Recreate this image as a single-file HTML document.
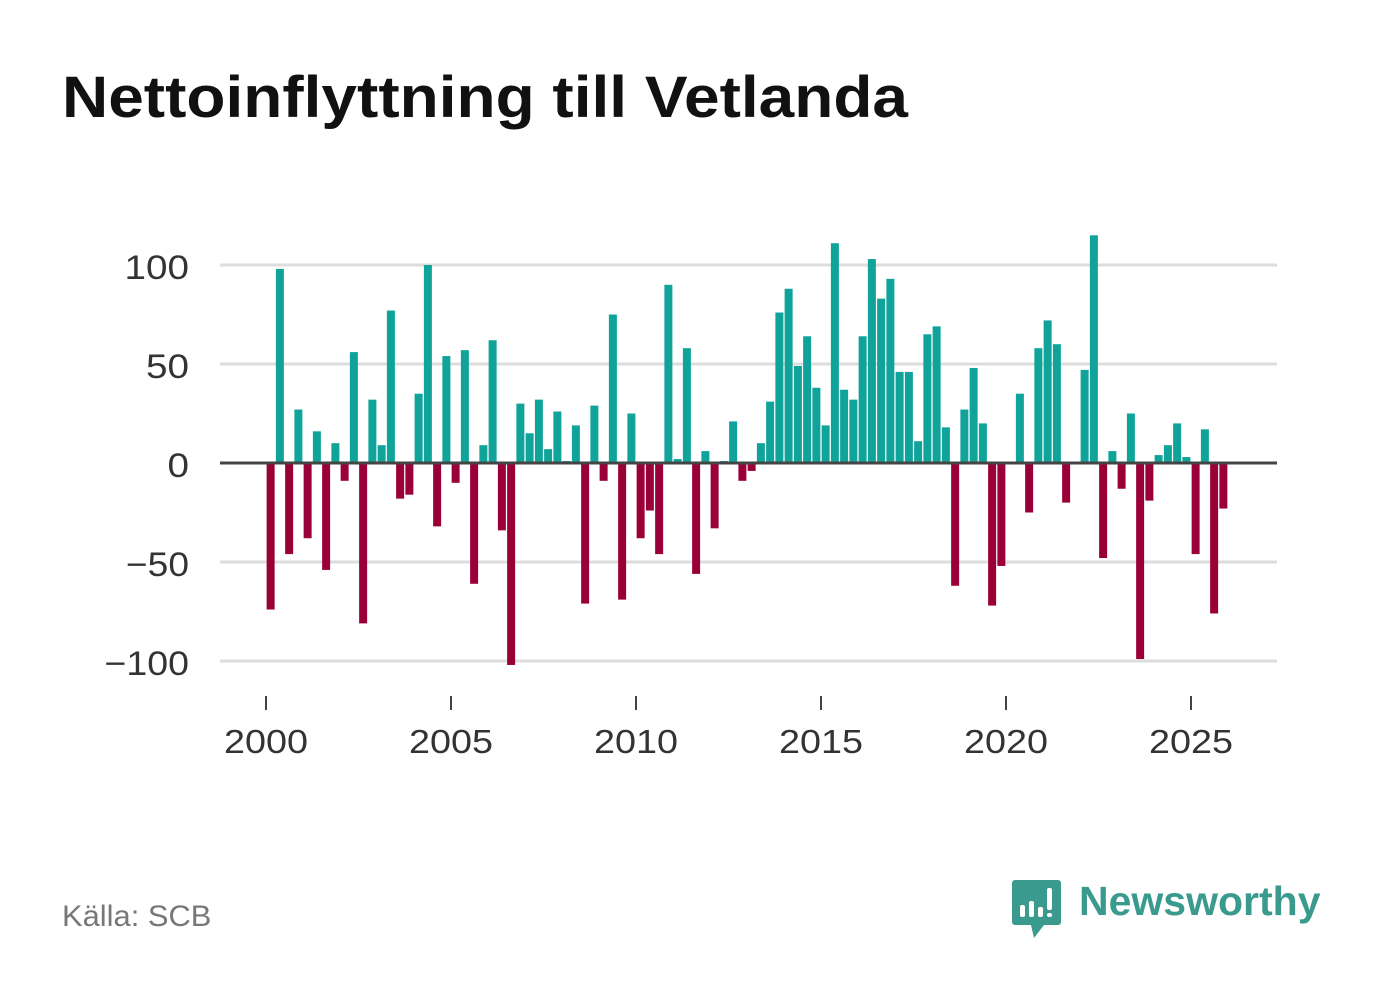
<!DOCTYPE html>
<html><head><meta charset="utf-8">
<style>
body{margin:0;background:#fff;width:1382px;height:999px;overflow:hidden;font-family:"Liberation Sans",sans-serif;}
#source{position:absolute;left:62px;top:900px;font-size:30px;color:#777;transform:scaleX(1.03);transform-origin:left;}
#logo-text{position:absolute;left:1079px;top:878px;font-size:41px;font-weight:bold;color:#3a9a8e;}
svg{position:absolute;left:0;top:0;}
</style></head>
<body>
<svg width="1382" height="160"><text x="62" y="117" font-size="58" font-weight="bold" fill="#111" font-family="Liberation Sans, sans-serif" textLength="846" lengthAdjust="spacingAndGlyphs">Nettoinflyttning till Vetlanda</text></svg>
<svg id="chart" width="1382" height="999"></svg>
<div id="source">Källa: SCB</div>
<svg width="1382" height="999" style="pointer-events:none">
<path d="M1015 880 h43 a3 3 0 0 1 3 3 v39 a3 3 0 0 1 -3 3 h-14 l-10 13 l-3 -13 h-16 a3 3 0 0 1 -3 -3 v-39 a3 3 0 0 1 3 -3z" fill="#3a9a8e"/>
<rect x="1020" y="905" width="5" height="12" rx="2" fill="#fff"/>
<rect x="1029" y="901" width="5" height="16" rx="2" fill="#fff"/>
<rect x="1038" y="907" width="5" height="10" rx="2" fill="#fff"/>
<rect x="1047" y="888" width="5" height="22" rx="2" fill="#fff"/>
<rect x="1047" y="913" width="5" height="4" rx="2" fill="#fff"/>
</svg>
<div id="logo-text">Newsworthy</div>
<script>
const startYear = 2000;
const values = [-74,98,-46,27,-38,16,-54,10,-9,56,-81,32,9,77,-18,-16,35,100,-32,54,-10,57,-61,9,62,-34,-102,30,15,32,7,26,1,19,-71,29,-9,75,-69,25,-38,-24,-46,90,2,58,-56,6,-33,1,21,-9,-4,10,31,76,88,49,64,38,19,111,37,32,64,103,83,93,46,46,11,65,69,18,-62,27,48,20,-72,-52,0,35,-25,58,72,60,-20,0,47,115,-48,6,-13,25,-99,-19,4,9,20,3,-46,17,-76,-23];
const yTicks = [100,50,0,-50,-100];
const yTickLabels = ["100","50","0","\u221250","\u2212100"];
const xTicks = [2000,2005,2010,2015,2020,2025];

const NS="http://www.w3.org/2000/svg";
const svg=document.getElementById('chart');
const x0=220,x1=1277;
function xScale(yr){return 266+(yr-2000)*37;}
function yScale(v){return 463-v*1.98;}
function mk(t,a){const e=document.createElementNS(NS,t);for(const k in a)e.setAttribute(k,a[k]);svg.appendChild(e);return e;}

yTicks.forEach((v,i)=>{
  if(v!==0){
    const g=mk('line',{x1:x0,x2:x1,y1:yScale(v),y2:yScale(v),stroke:'#dddddd','stroke-width':3});
    
    
  }
  const lab=yTickLabels[i];
  const w=lab.replace('\u2212','').length*21.5+(lab.indexOf('\u2212')>=0?20:0);
  const t=mk('text',{x:189,y:yScale(v)+14,'text-anchor':'end','font-size':34,fill:'#333','font-family':'Liberation Sans, sans-serif',textLength:w,lengthAdjust:'spacingAndGlyphs'});
  t.textContent=lab;
  
  
});
values.forEach((v,i)=>{
  const cx=xScale(startYear+(i+0.5)/4);
  const top=v>=0?yScale(v):yScale(0);
  const h=Math.abs(yScale(v)-yScale(0));
  const r=mk('rect',{x:cx-4,y:top,width:8,height:h,fill:v>=0?'#0fa39a':'#9a0037'});
  
  
});
const z=mk('line',{x1:x0,x2:x1,y1:yScale(0),y2:yScale(0),stroke:'#444','stroke-width':3});


xTicks.forEach(yr=>{
  const tk=mk('line',{x1:xScale(yr),x2:xScale(yr),y1:696,y2:710,stroke:'#444','stroke-width':2});
  
  
  const t=mk('text',{x:xScale(yr),y:753,'text-anchor':'middle','font-size':33,fill:'#333','font-family':'Liberation Sans, sans-serif',textLength:84,lengthAdjust:'spacingAndGlyphs'});
  t.textContent=yr;
  
  
});
</script>
</body></html>
